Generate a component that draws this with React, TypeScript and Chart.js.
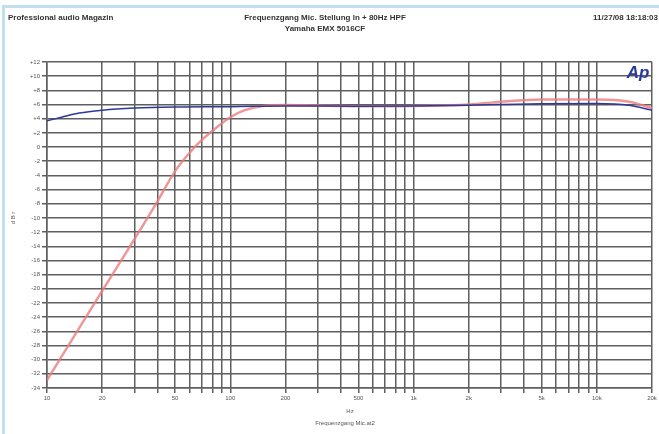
import React, { useEffect, useRef } from "react";
import { Chart, registerables } from "chart.js";

Chart.register(...registerables);

const titleLeft = "Professional audio Magazin";
const titleCenter1 = "Frequenzgang Mic. Stellung ln + 80Hz HPF";
const titleCenter2 = "Yamaha EMX 5016CF";
const titleRight = "11/27/08 18:18:03";
const xUnit = "Hz";
const xFile = "Frequenzgang Mic.at2";
const yTitle = "d B r";

const blueFreq = [10, 12, 15, 20, 30, 50, 100, 200, 500, 1000, 2000, 3000, 5000, 10000, 15000, 20000];
const blueDb = [3.7, 4.2, 4.8, 5.2, 5.5, 5.65, 5.7, 5.8, 5.75, 5.8, 5.9, 6.0, 6.1, 6.15, 5.9, 5.2];

const redFreq = [10, 20, 30, 40, 50, 60, 70, 80, 100, 120, 150, 200, 300, 500, 1000, 2000, 3000, 5000, 10000, 15000, 20000];
const redDb = [-32.9, -20.3, -13.0, -7.7, -3.4, -0.8, 1.0, 2.3, 4.2, 5.2, 5.8, 5.95, 5.85, 5.75, 5.8, 6.0, 6.4, 6.7, 6.7, 6.4, 5.5];

const yMax = 12;
const yMin = -34;
const yStep = 2;

const xGridTicks = [10, 20, 30, 40, 50, 60, 70, 80, 90, 100, 200, 300, 400, 500, 600, 700, 800, 900, 1000, 2000, 3000, 4000, 5000, 6000, 7000, 8000, 9000, 10000, 20000];
const xLabelMap: Record<number, string> = {
  10: "10", 20: "20", 50: "50", 100: "100", 200: "200", 500: "500",
  1000: "1k", 2000: "2k", 5000: "5k", 10000: "10k", 20000: "20k",
};

export default function App() {
  const ref = useRef<HTMLCanvasElement>(null);
  useEffect(() => {
    document.body.style.margin = "0";
    const ctx = ref.current!.getContext("2d")!;
    const headerPlugin = {
      id: "header",
      afterDraw(chart: any) {
        const c = chart.ctx;
        c.save();
        c.fillStyle = "#333";
        c.font = "bold 8px 'Liberation Sans', Arial, sans-serif";
        c.textBaseline = "middle";
        c.textAlign = "left";
        c.fillText(titleLeft, 8, 18);
        c.textAlign = "center";
        c.fillText(titleCenter1, 325, 18);
        c.fillText(titleCenter2, 325, 29);
        c.textAlign = "right";
        c.fillText(titleRight, 658, 18);
        c.font = "6px 'Liberation Sans', Arial, sans-serif";
        c.fillStyle = "#555";
        c.textAlign = "center";
        c.fillText(xUnit, 350, 411);
        c.fillText(xFile, 345, 423);
        c.save();
        c.translate(13, 218);
        c.rotate(-Math.PI / 2);
        c.fillText(yTitle, 0, 0);
        c.restore();
        c.fillStyle = "#2a3a9a";
        c.font = "italic bold 17px 'Liberation Sans', Arial, sans-serif";
        c.textAlign = "center";
        c.fillText("Ap", 638, 73);
        c.restore();
      },
    };
    const chart = new Chart(ctx, {
      type: "line",
      data: {
        datasets: [
          {
            label: "blue",
            data: blueFreq.map((f, i) => ({ x: f, y: blueDb[i] })),
            borderColor: "#2f3a96",
            borderWidth: 1.5,
            pointRadius: 0,
            cubicInterpolationMode: "monotone",
          },
          {
            label: "red",
            data: redFreq.map((f, i) => ({ x: f, y: redDb[i] })),
            borderColor: "rgba(235,125,125,0.8)",
            borderWidth: 2.5,
            pointRadius: 0,
            cubicInterpolationMode: "monotone",
          },
        ],
      },
      options: {
        animation: false,
        responsive: false,
        layout: { padding: { top: 62, right: 7, left: 0, bottom: 0 } },
        plugins: { legend: { display: false }, tooltip: { enabled: false }, title: { display: false } },
        scales: {
          x: {
            type: "logarithmic",
            min: 10,
            max: 20000,
            afterBuildTicks: (s: any) => {
              s.ticks = xGridTicks.map((v) => ({ value: v }));
            },
            afterFit: (s: any) => {
              s.height = 46;
            },
            ticks: {
              autoSkip: false,
              maxRotation: 0,
              color: "#555",
              font: { size: 6, family: "'Liberation Sans', Arial, sans-serif" },
              padding: 2,
              callback: (v: any) => xLabelMap[Number(v)] ?? "",
            },
            grid: { color: "#5f5f5f", lineWidth: 1.5, tickLength: 5 },
            border: { color: "#5f5f5f", width: 1.5 },
          },
          y: {
            min: yMin,
            max: yMax,
            afterBuildTicks: (s: any) => {
              const t = [];
              for (let v = yMax; v >= yMin; v -= yStep) t.push({ value: v });
              s.ticks = t;
            },
            afterFit: (s: any) => {
              s.width = 47;
            },
            ticks: {
              autoSkip: false,
              color: "#555",
              font: { size: 6, family: "'Liberation Sans', Arial, sans-serif" },
              padding: 2,
              callback: (v: any) => (Number(v) > 0 ? "+" + v : String(v)),
            },
            grid: { color: "#5f5f5f", lineWidth: 1.5, tickLength: 5 },
            border: { color: "#5f5f5f", width: 1.5 },
          },
        },
      },
      plugins: [headerPlugin],
    });
    return () => chart.destroy();
  }, []);
  return (
    <div style={{ position: "relative", width: 659, height: 434, background: "#fff", overflow: "hidden" }}>
      <div
        style={{
          position: "absolute",
          left: 2,
          top: 5,
          width: 700,
          height: 500,
          border: "3px solid #bfe0f0",
          boxSizing: "border-box",
        }}
      />
      <canvas ref={ref} width={659} height={434} style={{ position: "absolute", left: 0, top: 0 }} />
    </div>
  );
}
